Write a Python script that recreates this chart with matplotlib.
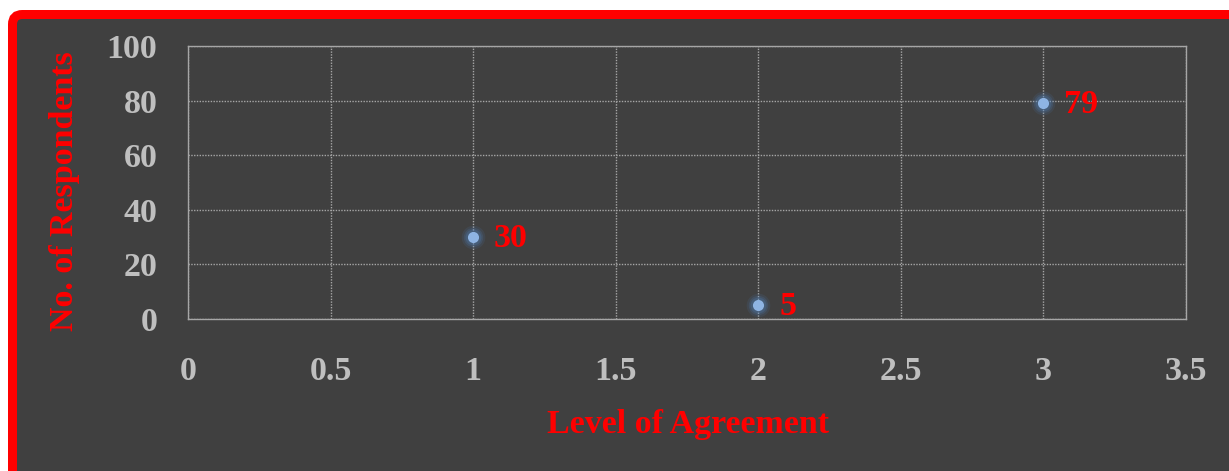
import matplotlib
matplotlib.use("Agg")
import matplotlib.pyplot as plt
from matplotlib.patches import FancyBboxPatch

# data
levels = [1, 2, 3]
respondents = [30, 5, 79]
x_ticks = [0, 0.5, 1, 1.5, 2, 2.5, 3, 3.5]
x_tick_labels = ["0", "0.5", "1", "1.5", "2", "2.5", "3", "3.5"]
y_ticks = [0, 20, 40, 60, 80, 100]

W, H = 1229, 471
BG = "#404040"
RED = "#FF0000"
TICK_COL = "#BFBFBF"
GRID_COL = "#A6A6A6"
MARKER_COL = "#8EB4E3"

plt.rcParams['font.family'] = ['Liberation Serif', 'DejaVu Serif']
plt.rcParams['font.weight'] = 'bold'

fig = plt.figure(figsize=(W / 100, H / 100), dpi=100)
fig.patch.set_facecolor("white")

# red rounded frame around the dark panel (runs off the right and bottom edge)
lw_px = 9
x0 = 8 + lw_px / 2
y0_top = 10 + lw_px / 2
frame = FancyBboxPatch((x0 / W, -30 / H), (W + 40 - x0) / W, (H + 30 - y0_top) / H,
                       boxstyle="round,pad=0,rounding_size=0.008",
                       transform=fig.transFigure, facecolor=BG, edgecolor=RED,
                       linewidth=lw_px * 72 / 100, zorder=-5, mutation_aspect=W / H)
fig.patches.append(frame)

ax = fig.add_axes([188 / W, 1 - 319 / H, (1186 - 188) / W, (319 - 46) / H])
ax.set_facecolor(BG)
ax.set_xlim(0, 3.5)
ax.set_ylim(0, 100)
ax.set_xticks(x_ticks)
ax.set_xticklabels(x_tick_labels)
ax.set_yticks(y_ticks)
ax.tick_params(axis="both", length=0, colors=TICK_COL, labelsize=24.5)
ax.tick_params(axis="y", pad=22)
ax.tick_params(axis="x", pad=27)
for lbl in ax.get_xticklabels() + ax.get_yticklabels():
    lbl.set_fontweight("bold")

# dotted grid, frame drawn the same way
ax.grid(True, color=GRID_COL, linestyle=(0, (1, 1)), linewidth=1.0)
for s in ax.spines.values():
    s.set_color(GRID_COL)
    s.set_linestyle((0, (1, 1)))
    s.set_linewidth(1.0)
ax.set_axisbelow(True)

# soft glow behind the markers
for ms, a in [(17, 0.12), (14, 0.18), (11.5, 0.25)]:
    ax.plot(levels, respondents, linestyle="none", marker="o", markersize=ms,
            color="#4F81BD", alpha=a, markeredgewidth=0, zorder=3)
ax.plot(levels, respondents, linestyle="none", marker="o", markersize=8,
        color=MARKER_COL, markeredgewidth=0, zorder=4)

for x, y in zip(levels, respondents):
    ax.annotate(str(y), (x, y), xytext=(15, -1), textcoords="offset points",
                ha="left", va="center", color=RED, fontsize=24.5, fontweight="bold",
                zorder=5)

fig.text(65 / W, 1 - 191 / H, "No. of Respondents", rotation=90, ha="center",
         va="center", color=RED, fontsize=24.5, fontweight="bold")
fig.text(688 / W, 1 - 425 / H, "Level of Agreement", ha="center", va="center",
         color=RED, fontsize=24.5, fontweight="bold")

fig.savefig("out.png", dpi=100, facecolor=fig.get_facecolor())
